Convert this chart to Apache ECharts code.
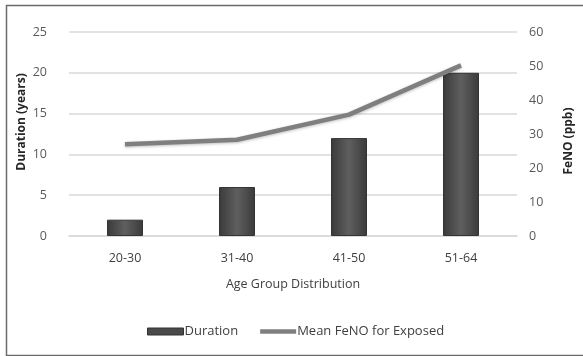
<!DOCTYPE html>
<html>
<head>
<meta charset="utf-8">
<script src="https://cdn.jsdelivr.net/npm/echarts@6/dist/echarts.min.js"></script>
<style>
html,body{margin:0;padding:0;background:#fff;}
#chart{width:583px;height:356px;}
</style>
</head>
<body>
<div id="chart"></div>
<script>
var categories = ['20-30', '31-40', '41-50', '51-64'];
var durationValues = [2, 6, 12, 20];
var fenoValues = [27, 28.3, 35.7, 50.2];
var leftTicks = {min: 0, max: 25, interval: 5};
var rightTicks = {min: 0, max: 60, interval: 10};

var FONT = '"Open Sans", sans-serif';
var chart = echarts.init(document.getElementById('chart'));
var barGrad = new echarts.graphic.LinearGradient(0, 0, 1, 0, [
  {offset: 0, color: '#3a3a3a'},
  {offset: 0.5, color: '#5f5f5f'},
  {offset: 1, color: '#3a3a3a'}
]);
chart.setOption({
  animation: false,
  backgroundColor: '#fff',
  graphic: [{
    type: 'rect',
    shape: {x: 6.5, y: 5.5, width: 600, height: 350},
    style: {fill: 'none', stroke: '#6b6b6b', lineWidth: 1.5},
    silent: true
  }],
  grid: {left: 69, right: 65, top: 32, bottom: 120},
  legend: {
    bottom: 13,
    left: 142,
    itemWidth: 36,
    itemHeight: 7,
    itemGap: 22,
    textStyle: {fontFamily: FONT, fontSize: 13, color: '#404040', padding: [0, 0, 0, -4]},
    data: [
      {name: 'Duration', icon: 'rect', itemStyle: {color: '#4a4a4a', borderColor: '#333', borderWidth: 1}},
      {name: 'Mean FeNO for Exposed', icon: 'path://M0,0H40V5H0Z', itemStyle: {color: '#7f7f7f'}}
    ]
  },
  xAxis: {
    type: 'category',
    data: categories,
    name: 'Age Group Distribution',
    nameLocation: 'middle',
    nameGap: 42,
    nameMoveOverlap: false,
    nameTextStyle: {fontFamily: FONT, fontSize: 12.5, color: '#404040'},
    axisLine: {lineStyle: {color: '#d9d9d9', width: 1.5}},
    axisTick: {show: false},
    axisLabel: {fontFamily: FONT, fontSize: 12.5, color: '#404040', margin: 16}
  },
  yAxis: [{
    type: 'value',
    min: leftTicks.min, max: leftTicks.max, interval: leftTicks.interval,
    name: 'Duration (years)',
    nameLocation: 'middle',
    nameGap: 41,
    nameMoveOverlap: false,
    nameTextStyle: {fontFamily: FONT, fontSize: 12, fontWeight: 'bold', color: '#262626', padding: [0, 0, 0, 24]},
    axisLine: {show: false},
    axisTick: {show: false},
    axisLabel: {fontFamily: FONT, fontSize: 12.5, color: '#595959', margin: 22},
    splitLine: {lineStyle: {color: '#d9d9d9', width: 1.5}}
  }, {
    type: 'value',
    position: 'right',
    min: rightTicks.min, max: rightTicks.max, interval: rightTicks.interval,
    name: 'FeNO (ppb)',
    nameLocation: 'middle',
    nameGap: 46,
    nameMoveOverlap: false,
    nameTextStyle: {fontFamily: FONT, fontSize: 12, fontWeight: 'bold', color: '#262626', padding: [0, 14, 0, 0]},
    axisLine: {show: false},
    axisTick: {show: false},
    axisLabel: {fontFamily: FONT, fontSize: 12.5, color: '#595959', margin: 12},
    splitLine: {show: false}
  }],
  series: [{
    name: 'Duration',
    type: 'bar',
    yAxisIndex: 0,
    data: durationValues,
    barWidth: 36,
    itemStyle: {color: barGrad, borderColor: '#333', borderWidth: 1}
  }, {
    name: 'Mean FeNO for Exposed',
    type: 'line',
    yAxisIndex: 1,
    data: fenoValues,
    symbol: 'none',
    showSymbol: false,
    lineStyle: {color: '#7f7f7f', width: 4.5, shadowColor: 'rgba(0,0,0,0.25)', shadowBlur: 3, shadowOffsetY: 1},
    itemStyle: {color: '#7f7f7f'}
  }]
});
</script>
</body>
</html>
